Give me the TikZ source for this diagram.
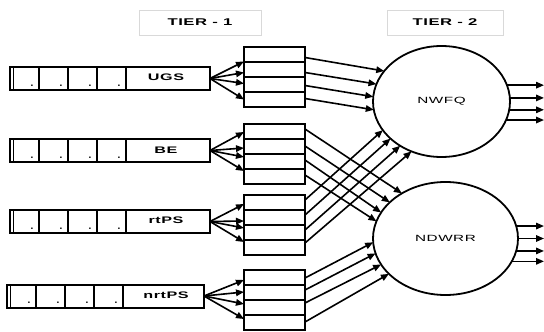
\documentclass[tikz,border=0pt]{standalone}
\usepackage{fontspec}
\setmainfont{Liberation Sans}
\newfontfamily\labfont[FakeStretch=1.7,LetterSpace=6]{Liberation Sans}
\usetikzlibrary{arrows.meta,shapes.geometric,calc}
\begin{document}
\begin{tikzpicture}[x=1pt,y=-1pt,
  ln/.style={line width=2pt},
  arr/.style={line width=1.6pt,-{Triangle[length=8pt,width=6.5pt]}},
  queue/.style={draw,line width=2pt,minimum height=23pt,inner sep=0pt,outer sep=0pt},
  buf/.style={draw,line width=2pt,minimum width=61pt,minimum height=60pt,inner sep=0pt,outer sep=0pt},
  sched/.style={ellipse,draw,line width=1.8pt,inner sep=0pt,outer sep=0pt},
  tier/.style={draw=gray!30,line width=0.6pt,minimum height=25pt,inner sep=0pt,font=\labfont\bfseries\fontsize{9.8}{11}\selectfont},
  qlab/.style={inner sep=0pt,font=\labfont\bfseries\fontsize{9.5}{11}\selectfont},
  slab/.style={inner sep=0pt,font=\labfont\fontsize{9}{10}\selectfont},
  dot/.style={inner sep=0pt,anchor=base,font=\bfseries\fontsize{10}{10}\selectfont}]
\useasboundingbox (0,0) rectangle (544,332);

% tier headers
\node[tier,minimum width=122pt] (t1) at (200,22.5) {TIER - 1};
\node[tier,minimum width=116pt] (t2) at (445,22.5) {TIER - 2};

% input queues
\node[queue,minimum width=200pt] (q1) at (110,78.5) {};
\node[queue,minimum width=200pt] (q2) at (110,150.5) {};
\node[queue,minimum width=200pt] (q3) at (110,221.5) {};
\node[queue,minimum width=197pt] (q4) at (105.5,296) {};
\foreach \q in {q1,q2,q3,q4}{
  \draw[line width=1pt] ($(\q.north west)+(3,0)$) -- ($(\q.south west)+(3,0)$);
  \foreach \d in {29,58,87,116}{
    \draw[ln] ($(\q.north west)+(\d,0)$) -- ($(\q.south west)+(\d,0)$);
    \node[dot] at ($(\q.south west)+(\d-7,-4)$) {.};
  }
}
\node[qlab] (l1) at ($(q1.east)+(-44,-1)$) {UGS};
\node[qlab] (l2) at ($(q2.east)+(-44,0)$) {BE};
\node[qlab] (l3) at ($(q3.east)+(-44,-1)$) {rtPS};
\node[qlab] (l4) at ($(q4.east)+(-38,-1)$) {nrtPS};

% tier-1 buffers
\node[buf] (b1) at (274.5,76.5) {};
\node[buf] (b2) at (274.5,154) {};
\node[buf] (b3) at (274.5,225) {};
\node[buf] (b4) at (274.5,300) {};
\foreach \b in {b1,b2,b3,b4}{
  \foreach \f in {0.25,0.5,0.75}{
    \draw[ln] ($(\b.north west)!\f!(\b.south west)$) -- ($(\b.north east)!\f!(\b.south east)$);
  }
}

% queue -> buffer arrows
\foreach \o in {15,26,37,53}{\draw[arr] (q1.east) -- ($(b1.north west)+(0,\o)$);}
\foreach \o in {8,24,33,47}{\draw[arr] (q2.east) -- ($(b2.north west)+(0,\o)$);}
\foreach \o in {9,26,33,47}{\draw[arr] (q3.east) -- ($(b3.north west)+(0,\o)$);}
\foreach \o in {10,22,34,49}{\draw[arr] (q4.east) -- ($(b4.north west)+(0,\o)$);}

% tier-2 schedulers
\node[sched,minimum width=137pt,minimum height=111pt] (s1) at (441.5,101.5) {};
\node[slab] (n1) at (s1.center) {NWFQ};
\node[sched,minimum width=145pt,minimum height=113pt] (s2) at (445.5,238.5) {};
\node[slab] (n2) at (s2.center) {NDWRR};

% buffer -> scheduler arrows
\foreach \o/\a in {11/152,26/165,39/176,52/187}{\draw[arr] ($(b1.north east)+(0,\o)$) -- (s1.\a);}
\foreach \o/\a in {5/134,22/147,36/158,51/166}{\draw[arr] ($(b2.north east)+(0,\o)$) -- (s2.\a);}
\foreach \o/\a in {5/206,20/216,35/227,48/239}{\draw[arr] ($(b3.north east)+(0,\o)$) -- (s1.\a);}
\foreach \o/\a in {8/183,20/192,33/202,52/212}{\draw[arr] ($(b4.north east)+(0,\o)$) -- (s2.\a);}

% outputs
\coordinate (outR) at (544,0);
\foreach \a in {14.2,3.8,-7.2,-16.9}{\draw[arr] (s1.\a) -- (s1.\a -| outR);}
\foreach \a in {10,0.4,-10,-19.6}{\draw[arr] (s2.\a) -- (s2.\a -| outR);}
\end{tikzpicture}
\end{document}
